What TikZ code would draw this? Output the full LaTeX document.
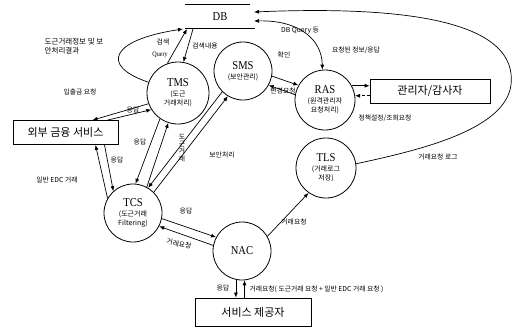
\documentclass[tikz,border=0pt]{standalone}
\usepackage{fontspec}
\setmainfont{Noto Sans CJK KR}
\newfontfamily\ser[FakeStretch=0.88]{Liberation Serif}
\newcommand\nmf{\ser\fontsize{12}{12}\selectfont}
\usetikzlibrary{arrows.meta,calc}
\begin{document}
\begin{tikzpicture}[x=1pt,y=-1pt,
  proc/.style={circle,draw,line width=0.8pt,minimum size=#1,inner sep=0pt,align=center,font=\fontsize{7}{9}\selectfont},
  ent/.style={draw,line width=0.8pt,font=\fontsize{11}{13}\selectfont,inner sep=0pt},
  arr/.style={-{Latex[length=5pt,width=4pt]},line width=0.7pt},
  darr/.style={{Latex[length=5pt,width=4pt]}-{Latex[length=5pt,width=4pt]},line width=0.7pt},
  lbl/.style={font=\fontsize{6.8}{8}\selectfont,inner sep=0.5pt}
]
\useasboundingbox (0,0) rectangle (522,330);

% data store
\node[minimum width=70pt,minimum height=23pt,inner sep=0pt,font=\nmf] (DB) at (220,16.5) {DB};
\draw[line width=0.8pt] (DB.north west) -- ([xshift=-5pt]DB.north east);
\draw[line width=0.8pt] (DB.south west) -- (DB.south east);
\coordinate (dbL) at (183,29);
\coordinate (dbQ) at (187,29);
\coordinate (dbC) at (193,29);
\coordinate (dbR1) at (254,12);
\coordinate (dbR2) at (254,21);

% processes
\node[proc=62pt] (TMS) at (178,93) {{\nmf TMS}\\[1pt](도근\\거래처리)};
\node[proc=58pt] (SMS) at (243,71) {{\nmf SMS}\\[1pt](보안관리)};
\node[proc=60pt] (RAS) at (325,100) {{\nmf RAS}\\[1pt](원격관리자\\요청처리)};
\node[proc=60pt] (TLS) at (326,168) {{\nmf TLS}\\[1pt](거래로그\\저장)};
\node[proc=58pt] (TCS) at (133,213) {{\nmf TCS}\\[1pt](도근거래\\Filtering)};
\node[proc=58pt] (NAC) at (242,251) {{\nmf NAC}};

% external entities
\node[ent,minimum width=105pt,minimum height=24pt] (EXT) at (65.5,132.5) {외부 금융 서비스};
\node[ent,minimum width=120pt,minimum height=24pt] (ADM) at (430,91) {관리자/감사자};
\node[ent,minimum width=116pt,minimum height=28pt] (SVC) at (253,312) {서비스 제공자};

% TMS <-> DB
\draw[arr] (TMS.160) .. controls (100,66) and (110,40) .. (dbL);
\draw[arr] (TMS.110) -- (dbQ);
\draw[arr] (dbC) -- (TMS.80);

% TMS <-> EXT
\draw[arr] (TMS.200) -- ([xshift=27pt]EXT.north);
\draw[arr] ([xshift=42pt]EXT.north) -- (TMS.212);

% TCS <-> EXT
\draw[arr] (TCS.150) -- ([xshift=30pt]EXT.south);
\draw[arr] ([xshift=39pt]EXT.south) -- (TCS.132);

% TMS <-> TCS
\draw[arr] (TMS.235) -- (TCS.85);
\draw[arr] (TCS.62) -- (TMS.252);

% SMS <-> TCS
\draw[arr] (SMS.225) -- (TCS.59);
\draw[arr] (TCS.45) -- (SMS.239);

% SMS <-> RAS
\draw[arr] (SMS.-10) -- (RAS.151);
\draw[arr] (RAS.170) -- (SMS.-29);

% RAS <-> ADM
\draw[arr] (RAS.28) -- (RAS.28 -| ADM.west);
\draw[arr,densely dashed] (RAS.8 -| ADM.west) -- (RAS.8);

% DB <-> RAS
\draw[darr] (dbR2) .. controls (300,20) and (322,40) .. (RAS.95);

% TLS -> DB
\draw[arr] (TLS.8) .. controls (420,150) and (505,130) .. (511,85)
  .. controls (518,25) and (420,5) .. (dbR1);

% NAC -> TLS
\draw[arr] (NAC.30) -- (TLS.235);

% TCS <-> NAC
\draw[arr] (TCS.-11) -- (NAC.152);
\draw[arr] (NAC.169) -- (TCS.-27);

% NAC <-> SVC
\draw[arr] (NAC.258) -- (NAC.258 |- SVC.north);
\draw[arr] (NAC.275 |- SVC.north) -- (NAC.275);

% labels
\node[lbl,font=\fontsize{7.5}{8.5}\selectfont,align=left,anchor=west] (l1) at (44,46) {도근거래정보 및 보\\안처리결과};
\node[lbl] (l2) at (163,42) {검색};
\node[lbl,font=\ser\fontsize{7}{8}\selectfont] (l3) at (160,55) {Query};
\node[lbl] (l4) at (205,46) {검색내용};
\node[lbl] (l5) at (80,92) {입출금 요청};
\node[lbl] (l6) at (133,110) {응답};
\node[lbl] (l7) at (140,142) {응답};
\node[lbl,align=center,font=\fontsize{6.8}{7.2}\selectfont] (l8) at (182,148) {도\\근\\거\\래};
\node[lbl] (l9) at (222,155) {보안처리};
\node[lbl] (l10) at (117,160) {응답};
\node[lbl] (l11) at (57,180) {일반 EDC 거래};
\node[lbl] (l12) at (186,211) {응답};
\node[lbl,rotate=-12] (l13) at (179,244) {거래요청};
\node[lbl] (l14) at (294,222) {거래요청};
\node[lbl] (l15) at (223,288) {응답};
\node[lbl,anchor=west] (l16) at (249,289) {거래요청( 도근거래 요청 + 일반 EDC 거래 요청 )};
\node[lbl] (l17) at (438,157) {거래요청 로그};
\node[lbl] (l18) at (284,55) {확인};
\node[lbl] (l19) at (283,91) {변경요청};
\node[lbl] (l20) at (300,31) {DB Query 등};
\node[lbl] (l21) at (356,50) {요청된 정보/응답};
\node[lbl] (l22) at (385,118) {정책설정/조회요청};
\end{tikzpicture}
\end{document}
